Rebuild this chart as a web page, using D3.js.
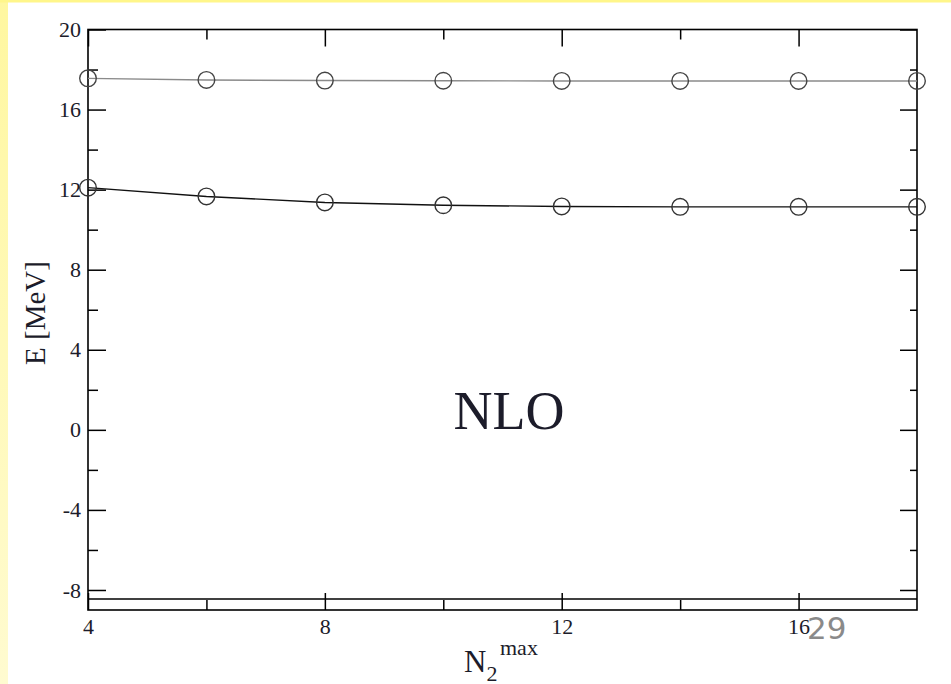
<!DOCTYPE html>
<html>
<head>
<meta charset="utf-8">
<script src="https://cdn.jsdelivr.net/npm/d3@7"></script>
<style>
  html, body { margin: 0; padding: 0; background: #fff; }
  svg { display: block; }
  .tick text { font-family: 'Liberation Serif', 'Times New Roman', serif; font-size: 22px; }
</style>
</head>
<body>
<div id="chart"></div>
<script>
// Data
let nmax = [4, 6, 8, 10, 12, 14, 16, 18];
let upperE = [17.56, 17.48, 17.45, 17.44, 17.43, 17.43, 17.43, 17.43];
let lowerE = [12.1, 11.66, 11.36, 11.22, 11.16, 11.14, 11.14, 11.14];
let floorLine = [-8.45];
let xMajor = [4, 8, 12, 16];
let xMinor = [6, 10, 14];
let yMajor = [-8, -4, 0, 4, 8, 12, 16, 20];
let yMinor = [-6, -2, 2, 6, 10, 14, 18];

const W = 951, H = 684;
const plotL = 88, plotR = 917, plotT = 29.5, plotB = 610;

let x = d3.scaleLinear().domain([4, 18]).range([plotL, plotR]);
let y = d3.scaleLinear().domain([-9, 20]).range([plotB, plotT]);

let svg = d3.select("#chart").append("svg")
  .attr("width", W).attr("height", H);

// slide background strips
let grad = svg.append("defs").append("linearGradient")
  .attr("id", "side").attr("x1", 0).attr("y1", 0).attr("x2", 0).attr("y2", 1);
grad.append("stop").attr("offset", "0%").attr("stop-color", "#fff7a0");
grad.append("stop").attr("offset", "100%").attr("stop-color", "#fffbd0");
svg.append("rect").attr("x", 0).attr("y", 0).attr("width", 8).attr("height", H).attr("fill", "url(#side)");
svg.append("rect").attr("x", 0).attr("y", 0).attr("width", W).attr("height", 2.5).attr("fill", "#fff68a");

const tickFont = "'Liberation Serif', 'Times New Roman', serif";
const ink = "#1c1c2a";
const plain = d => String(d);  // keep hyphen minus like the original

function styleAxis(g, labels) {
  g.attr("font-size", 22).attr("font-family", tickFont);
  g.select(".domain").remove();
  g.selectAll(".tick line").attr("stroke", "#000").attr("stroke-width", 1.5);
  g.selectAll(".tick text").attr("fill", ink);
  if (!labels) g.selectAll(".tick text").remove();
}

// bottom axis
svg.append("g").attr("transform", `translate(0,${plotB})`)
  .call(d3.axisBottom(x).tickValues(xMajor).tickSize(-17).tickPadding(8).tickFormat(plain))
  .call(g => styleAxis(g, true));
svg.append("g").attr("transform", `translate(0,${plotB})`)
  .call(d3.axisBottom(x).tickValues(xMinor).tickSize(-10))
  .call(g => styleAxis(g, false));

// top axis
svg.append("g").attr("transform", `translate(0,${plotT})`)
  .call(d3.axisTop(x).tickValues(xMajor).tickSize(-17))
  .call(g => styleAxis(g, false));
svg.append("g").attr("transform", `translate(0,${plotT})`)
  .call(d3.axisTop(x).tickValues(xMinor).tickSize(-10))
  .call(g => styleAxis(g, false));

// left axis
svg.append("g").attr("transform", `translate(${plotL},0)`)
  .call(d3.axisLeft(y).tickValues(yMajor).tickSize(-18).tickPadding(7).tickFormat(plain))
  .call(g => styleAxis(g, true));
svg.append("g").attr("transform", `translate(${plotL},0)`)
  .call(d3.axisLeft(y).tickValues(yMinor).tickSize(-10))
  .call(g => styleAxis(g, false));

// right axis
svg.append("g").attr("transform", `translate(${plotR},0)`)
  .call(d3.axisRight(y).tickValues(yMajor).tickSize(-17))
  .call(g => styleAxis(g, false));
svg.append("g").attr("transform", `translate(${plotR},0)`)
  .call(d3.axisRight(y).tickValues(yMinor).tickSize(-7))
  .call(g => styleAxis(g, false));

// frame
svg.append("rect")
  .attr("x", plotL).attr("y", plotT)
  .attr("width", plotR - plotL).attr("height", plotB - plotT)
  .attr("fill", "none").attr("stroke", "#000").attr("stroke-width", 1.6);

// horizontal line near the floor
svg.selectAll(".floor").data(floorLine).join("line")
  .attr("class", "floor")
  .attr("x1", plotL).attr("x2", plotR)
  .attr("y1", d => y(d)).attr("y2", d => y(d))
  .attr("stroke", "#000").attr("stroke-width", 1.5);

// series
let series = [
  { values: upperE, line: "#8a8a8a", mark: "#444" },
  { values: lowerE, line: "#111", mark: "#333" }
];

let line = d3.line().x((d, i) => x(nmax[i])).y(d => y(d));

series.forEach(s => {
  svg.append("path")
    .datum(s.values)
    .attr("d", line)
    .attr("fill", "none")
    .attr("stroke", s.line)
    .attr("stroke-width", 1.4);
  svg.selectAll(null).data(s.values).join("circle")
    .attr("cx", (d, i) => x(nmax[i]))
    .attr("cy", d => y(d))
    .attr("r", 8.3)
    .attr("fill", "none")
    .attr("stroke", s.mark)
    .attr("stroke-width", 1.4);
});

// labels
svg.append("text")
  .attr("transform", "translate(45,313) rotate(-90)")
  .attr("text-anchor", "middle")
  .attr("fill", ink)
  .style("font-family", tickFont)
  .style("font-size", "29px")
  .text("E [MeV]");

svg.append("text")
  .attr("x", 509).attr("y", 429)
  .attr("text-anchor", "middle")
  .attr("fill", ink)
  .style("font-family", tickFont)
  .style("font-size", "54px")
  .text("NLO");

let xl = svg.append("text")
  .attr("x", 464).attr("y", 672)
  .attr("fill", ink)
  .style("font-family", tickFont)
  .style("font-size", "31px");
xl.append("tspan").text("N");
xl.append("tspan").attr("dy", 9).style("font-size", "22px").text("2");
xl.append("tspan").attr("x", 500).attr("y", 655).style("font-size", "22px").text("max");

// slide page number
svg.append("text")
  .attr("x", 807).attr("y", 639)
  .attr("fill", "#8a8a8a")
  .style("font-family", "'DejaVu Sans', sans-serif")
  .style("font-size", "31px")
  .text("29");
</script>
</body>
</html>
